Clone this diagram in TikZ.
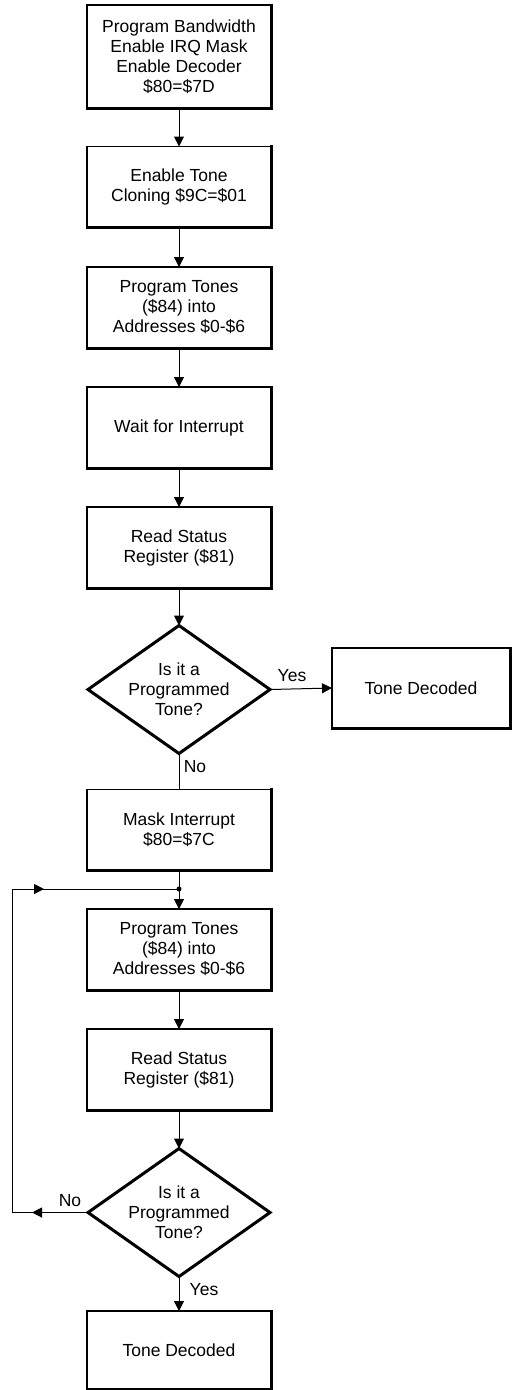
\documentclass[tikz,border=0pt]{standalone}
\usepackage{fontspec}
\setmainfont{Liberation Sans}
\usetikzlibrary{arrows.meta,shapes.geometric}
\begin{document}
\begin{tikzpicture}[x=1pt,y=-1pt,
  txt/.style={font=\fontsize{17.5}{20}\selectfont,align=center,inner sep=0pt},
  box/.style={txt,draw,line width=1.5pt,minimum width=184pt,minimum height=81pt,outer sep=0pt},
  shade/.style={line width=3pt,line cap=rect},
  dec/.style={draw,diamond,line width=3pt,minimum width=182pt,minimum height=128pt,inner sep=0pt,outer sep=0pt},
  conn/.style={line width=1pt},
  arr/.style={conn,-{Triangle[length=10pt,width=10pt]}}
]
\useasboundingbox (0,0) rectangle (512,1390);

\node[box,minimum height=103pt] (b1) at (179,56.5) {Program Bandwidth\\Enable IRQ Mask\\Enable Decoder\\\$80=\$7D};
\node[box] (b2) at (179,187) {Enable Tone\\Cloning \$9C=\$01};
\node[box] (b3) at (179,307.5) {Program Tones\\(\$84) into\\Addresses \$0-\$6};
\node[box] (b4) at (179,427.5) {Wait for Interrupt};
\node[box] (b5) at (179,547.5) {Read Status\\Register (\$81)};
\node[dec] (d1) at (179,689.5) {};
\node[txt] (d1t) at (179,689.5) {Is it a\\Programmed\\Tone?};
\node[box,minimum width=178pt,minimum height=80pt] (td1) at (421,688) {Tone Decoded};
\node[box] (b6) at (179,830) {Mask Interrupt\\\$80=\$7C};
\coordinate (j) at (179,889);
\node[box] (b7) at (179,949.5) {Program Tones\\(\$84) into\\Addresses \$0-\$6};
\node[box] (b8) at (179,1069.5) {Read Status\\Register (\$81)};
\node[dec] (d2) at (179,1212.5) {};
\node[txt] (d2t) at (179,1212.5) {Is it a\\Programmed\\Tone?};
\node[box,minimum height=78pt] (b9) at (179,1350) {Tone Decoded};

\foreach \n in {b1,b2,b3,b4,b5,td1,b6,b7,b8,b9}
  \draw[shade] (\n.north east) -- (\n.south east) -- (\n.south west);

\draw[arr] (b1) -- (b2);
\draw[arr] (b2) -- (b3);
\draw[arr] (b3) -- (b4);
\draw[arr] (b4) -- (b5);
\draw[arr] (b5) -- (d1);
\draw[arr] (d1.east) -- (td1.west);
\draw[conn] (d1.south) -- (b6.north);
\draw[conn] (b6.south) -- (j);
\draw[arr] (j) -- (b7);
\draw[arr] (b7) -- (b8);
\draw[arr] (b8) -- (d2);
\draw[arr] (d2.south) -- (b9.north);

\coordinate (cBL) at (12,1212.5);
\coordinate (cTL) at (12,889);
\coordinate (aL) at (32,1212.5);
\coordinate (aT) at (44,889);
\draw[conn] (d2.west) -- (cBL) -- (cTL) -- (j);
\draw[arr] (d2.west) -- (aL);
\draw[arr] (cTL) -- (aT);
\fill (j) circle (2.5pt);

\node[txt] (ly1) at (292,676) {Yes};
\node[txt] (ln1) at (195,767) {No};
\node[txt] (ln2) at (70,1201) {No};
\node[txt] (ly2) at (204,1290) {Yes};
\end{tikzpicture}
\end{document}
